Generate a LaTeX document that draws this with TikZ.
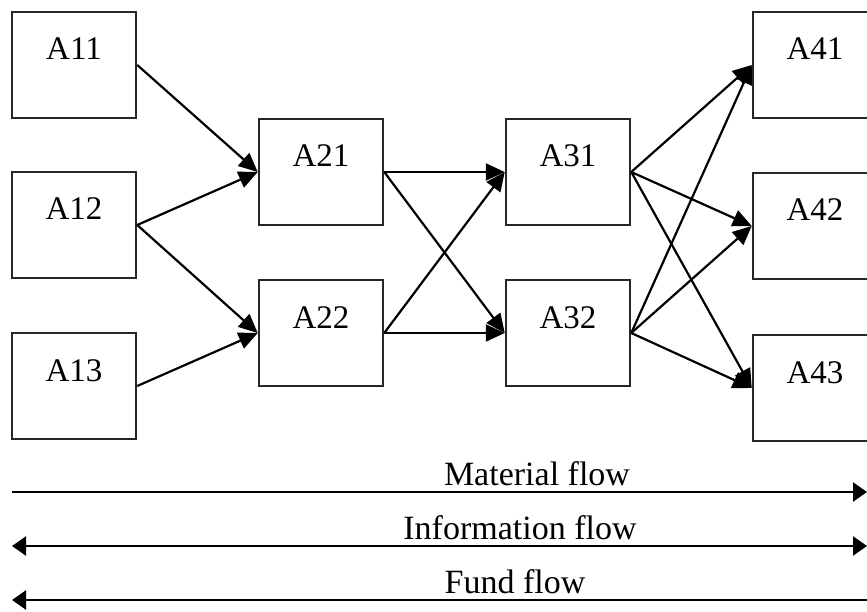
\documentclass[tikz,border=0pt]{standalone}
\usepackage{fontspec}
\setmainfont{Liberation Serif}
\usetikzlibrary{arrows.meta}
\begin{document}
\begin{tikzpicture}[x=1pt,y=-1pt,
  box/.style={draw=black!85, line width=2.5pt, minimum width=124pt, minimum height=106pt,
    inner sep=0pt, font=\fontsize{33}{33}\selectfont, text height=24pt, text depth=34pt},
  link/.style={line width=2.2pt, -{Triangle[length=19pt,width=17pt]}},
  flow/.style={line width=2.3pt},
  tipboth/.style={{Triangle[length=14pt,width=19pt]}-{Triangle[length=14pt,width=19pt]}},
  tipright/.style={-{Triangle[length=14pt,width=19pt]}},
  tipleft/.style={{Triangle[length=14pt,width=19pt]}-},
  flowlabel/.style={font=\fontsize{34}{34}\selectfont, inner sep=0pt, anchor=base}]
\useasboundingbox (0,0) rectangle (867,612);
\clip (0,0) rectangle (867,612);

% stage 1
\node[box] (A11) at (74,65)  {A11};
\node[box] (A12) at (74,225) {A12};
\node[box] (A13) at (74,386) {A13};
% stage 2
\node[box] (A21) at (321,172) {A21};
\node[box] (A22) at (321,333) {A22};
% stage 3
\node[box] (A31) at (568,172) {A31};
\node[box] (A32) at (568,333) {A32};
% stage 4
\node[box] (A41) at (815,65)  {A41};
\node[box] (A42) at (815,226) {A42};
\node[box] (A43) at (815,388) {A43};

% links between stages
\draw[link] (A11.east) -- (A21.west);
\draw[link] (A12.east) -- (A21.west);
\draw[link] (A12.east) -- (A22.west);
\draw[link] (A13.east) -- (A22.west);

\draw[link] (A21.east) -- (A31.west);
\draw[link] (A21.east) -- (A32.west);
\draw[link] (A22.east) -- (A31.west);
\draw[link] (A22.east) -- (A32.west);

\foreach \s in {A31,A32}
  \foreach \t in {A41,A42,A43}
    \draw[link] (\s.east) -- (\t.west);

% flow legend
\coordinate (m1) at (12,492);  \coordinate (m2) at (867,492);
\coordinate (i1) at (12,546);  \coordinate (i2) at (867,546);
\coordinate (f1) at (12,600);  \coordinate (f2) at (867,600);
\draw[flow, tipright] (m1) -- (m2);
\draw[flow, tipboth]  (i1) -- (i2);
\draw[flow, tipleft]  (f1) -- (f2);
\node[flowlabel] (lm) at (537,485) {Material flow};
\node[flowlabel] (li) at (520,539) {Information flow};
\node[flowlabel] (lf) at (515,593) {Fund flow};
\end{tikzpicture}
\end{document}
